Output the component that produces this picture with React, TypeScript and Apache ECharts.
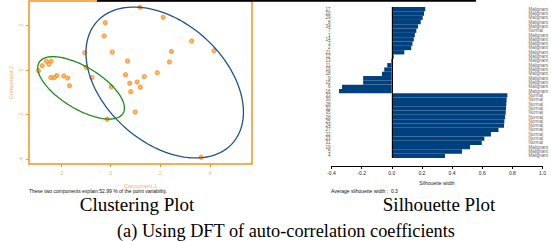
import React, { useEffect, useRef } from "react";
import * as echarts from "echarts";

// Clustering plot: principal components of the 35 observations
const compX = [1.19, 2.12, -0.22, -0.26, 3.27, 4.17, -1.04, 0.07, 2.45, 0.68, 2.37, -2.59, -2.4, -2.49, -2.76, -2.91, -0.99, 1.88, 0.6, 1.36, -2.17, -2.41, -2.27, -1.89, -1.73, -0.75, 1.07, 0.77, -1.66, 0.03, 1.2, 0.81, 0.99, -0.14, 3.65];
const compY = [2.8, 2.35, 2.11, 1.52, 1.29, 0.86, 0.77, 0.8, 0.83, 0.4, 0.36, 0.39, 0.39, 0.25, 0.19, -0.04, 0.12, -0.12, -0.21, -0.3, -0.25, -0.34, -0.34, -0.27, -0.36, -0.34, -0.54, -0.59, -0.71, -0.75, -0.77, -0.97, -1.88, -2.2, -3.9];

// Cluster ellipses: centre and two semi-axis vectors (data units)
const blueCenter = [2.18, -0.56];
const blueAxisU = [2.73, -2.72];
const blueAxisV = [-1.62, -1.99];
const greenCenter = [-1.19, -0.8];
const greenAxisU = [1.69, -1.14];
const greenAxisV = [-0.44, -0.8];

const xTicks = [-2, 0, 2, 4];
const yTicks = [-4, -2, 0, 2];

// Silhouette plot
const silIds = ["17", "20", "29", "8", "34", "7", "1", "14", "3", "2", "21", "12", "13", "11", "10", "18", "9", "15", "6", "16", "33", "30", "28", "32", "35", "26", "25", "24", "27", "22", "23", "31", "19", "5", "4"];
const silWidths = [0.222, 0.214, 0.205, 0.192, 0.174, 0.163, 0.153, 0.146, 0.137, 0.129, 0.083, 0.013, -0.005, -0.03, -0.05, -0.065, -0.19, -0.19, -0.33, -0.35, 0.767, 0.762, 0.76, 0.758, 0.756, 0.752, 0.747, 0.745, 0.708, 0.658, 0.614, 0.597, 0.519, 0.466, 0.353];
const silClass = ["Malignant", "Malignant", "Malignant", "Malignant", "Malignant", "Normal", "Malignant", "Malignant", "Malignant", "Malignant", "Malignant", "Malignant", "Malignant", "Malignant", "Malignant", "Malignant", "Malignant", "Malignant", "Malignant", "Malignant", "Normal", "Normal", "Normal", "Normal", "Normal", "Normal", "Normal", "Normal", "Normal", "Normal", "Normal", "Normal", "Malignant", "Malignant", "Malignant"];

function ellipse(c: number[], u: number[], v: number[]) {
  const pts: number[][] = [];
  const n = 160;
  for (let i = 0; i <= n; i++) {
    const t = (i / n) * Math.PI * 2;
    pts.push([c[0] + u[0] * Math.cos(t) + v[0] * Math.sin(t), c[1] + u[1] * Math.cos(t) + v[1] * Math.sin(t)]);
  }
  return pts;
}

const ORANGE = "#F7941D";
const ORANGE_TXT = "#F6AE62";
const SANS = "Liberation Sans";
const SERIF = "Liberation Serif";

export default function App() {
  const ref = useRef<HTMLDivElement>(null);
  useEffect(() => {
    if (!ref.current) return;
    const chart = echarts.init(ref.current, undefined, { renderer: "svg" });
    const capStyle = { fontSize: 19, lineHeight: 19, fontFamily: SERIF, fontWeight: "normal" as const, color: "#000" };
    const subStyle = { fontSize: 18.3, lineHeight: 18, fontFamily: SERIF, fontWeight: "normal" as const, color: "#000" };
    const smallStyle = { fontSize: 5, fontFamily: SANS, fontWeight: "normal" as const, color: "#111" };
    chart.setOption({
      animation: false,
      backgroundColor: "#fff",
      title: [
        { text: "These two components explain 52.99 % of the point variability.", left: 29, top: 188, padding: 0, textStyle: smallStyle },
        { text: "Average silhouette width :  0.3", left: 331, top: 188, padding: 0, textStyle: smallStyle },
        { text: "Clustering Plot", left: 137, top: 195, padding: 0, textAlign: "center", textStyle: capStyle },
        { text: "Silhouette Plot", left: 439, top: 195, padding: 0, textAlign: "center", textStyle: capStyle },
        { text: "(a) Using DFT of auto-correlation coefficients", left: 286, top: 222, padding: 0, textAlign: "center", textStyle: subStyle },
      ],
      graphic: [
        { type: "line", shape: { x1: 97, y1: 0.8, x2: 476, y2: 0.8 }, style: { stroke: "#000", lineWidth: 2 } },
      ],
      grid: [
        { left: 29, top: 1, width: 223, height: 163, show: true, borderColor: ORANGE, borderWidth: 1.5, backgroundColor: "transparent" },
        { left: 331.5, top: 7, width: 214.2, height: 151, show: false },
      ],
      xAxis: [
        {
          gridIndex: 0, type: "value", min: -3.29, max: 5.7,
          name: "Component 1", nameLocation: "middle", nameGap: 19,
          nameTextStyle: { fontSize: 5.5, fontFamily: SANS, color: ORANGE_TXT },
          axisLine: { show: false, onZero: false },
          axisTick: { show: true, length: 3, customValues: xTicks, lineStyle: { color: ORANGE, width: 1 } },
          axisLabel: { customValues: xTicks, fontSize: 5, fontFamily: SANS, color: ORANGE_TXT, margin: 6 },
          splitLine: { show: false },
        },
        {
          gridIndex: 1, type: "value", min: -0.4, max: 1.0, interval: 0.2, offset: 8,
          name: "Silhouette width", nameLocation: "middle", nameGap: 14,
          nameTextStyle: { fontSize: 5, fontFamily: SANS, color: "#222" },
          axisLine: { show: true, onZero: false, lineStyle: { color: "#000", width: 1 } },
          axisTick: { show: true, length: 3, lineStyle: { color: "#000" } },
          axisLabel: {
            fontSize: 5, fontFamily: SANS, color: "#222", margin: 4,
            formatter: (v: number) => (Math.abs(v) < 1e-9 ? "0.0" : v.toFixed(1)),
          },
          splitLine: { show: false },
        },
      ],
      yAxis: [
        {
          gridIndex: 0, type: "value", min: -4.2, max: 3.08,
          name: "Component 2", nameLocation: "middle", nameGap: 15, nameRotate: 90,
          nameTextStyle: { fontSize: 5.5, fontFamily: SANS, color: ORANGE_TXT },
          axisLine: { show: false, onZero: false },
          axisTick: { show: true, length: 3, customValues: yTicks, lineStyle: { color: ORANGE, width: 1 } },
          axisLabel: { customValues: yTicks, rotate: 90, fontSize: 5, fontFamily: SANS, color: ORANGE_TXT, margin: 6 },
          splitLine: { show: false },
        },
        {
          gridIndex: 1, type: "category", data: silIds, inverse: true,
          axisLine: { show: false, onZero: false }, axisTick: { show: false },
          axisLabel: { interval: 0, fontSize: 4.5, fontFamily: SANS, color: "#555", margin: 1 },
        },
        {
          gridIndex: 1, type: "category", data: silClass, inverse: true, position: "right", offset: -14,
          axisLine: { show: false, onZero: false }, axisTick: { show: false },
          axisLabel: { interval: 0, fontSize: 4.5, fontFamily: SANS, color: "#666", margin: 0 },
        },
      ],
      series: [
        {
          type: "line", xAxisIndex: 0, yAxisIndex: 0, data: ellipse(blueCenter, blueAxisU, blueAxisV),
          showSymbol: false, lineStyle: { color: "#1F4F8F", width: 1.3 }, silent: true,
        },
        {
          type: "line", xAxisIndex: 0, yAxisIndex: 0, data: ellipse(greenCenter, greenAxisU, greenAxisV),
          showSymbol: false, lineStyle: { color: "#1E8A1E", width: 1.3 }, silent: true,
        },
        {
          type: "scatter", xAxisIndex: 0, yAxisIndex: 0,
          data: compX.map((x, i) => [x, compY[i]]),
          symbol: "emptyCircle", symbolSize: 3.2,
          itemStyle: { color: "#FF8C1A", borderColor: "#FF8C1A", borderWidth: 1 },
        },
        {
          type: "bar", xAxisIndex: 1, yAxisIndex: 1, data: silWidths,
          barCategoryGap: "0%", itemStyle: { color: "#00407F" },
          markLine: {
            silent: true, symbol: "none", label: { show: false },
            lineStyle: { color: "#000", width: 1, type: "solid" },
            data: [{ xAxis: 0 }],
          },
        },
      ],
    });
    return () => chart.dispose();
  }, []);
  return <div ref={ref} style={{ position: "fixed", left: 0, top: 0, width: 551, height: 241 }} />;
}
